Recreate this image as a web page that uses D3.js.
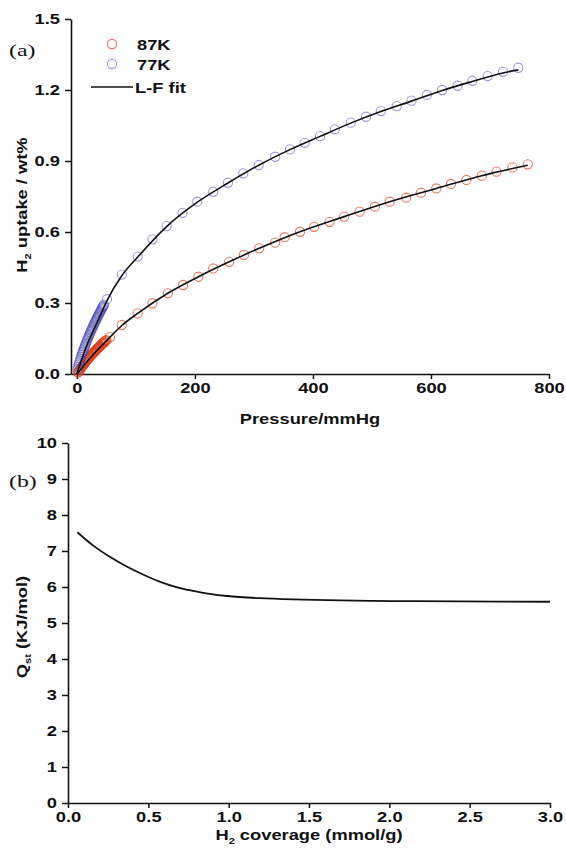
<!DOCTYPE html>
<html>
<head>
<meta charset="utf-8">
<script src="https://cdn.jsdelivr.net/npm/d3@7/dist/d3.min.js"></script>
<style>
  body { margin: 0; background: #fff; }
  text { font-family: "Liberation Sans", Arial, sans-serif; font-weight: bold; fill: #111; }
  .tag { font-family: "Liberation Serif", "Times New Roman", serif; font-weight: normal; }
</style>
</head>
<body>
<svg id="chart" width="566" height="853"></svg>
<script>
// ---- panel (a) data: pressure (mmHg) / uptake (wt%) ----
// low-pressure runs are very dense, they show up as a solid band
var p87 = [2, 3, 4, 5, 6, 7, 8, 9, 10, 11, 12, 13, 14, 15, 16, 17, 18, 19, 20, 21, 22, 23, 24, 25, 26, 27, 28, 29, 30, 31, 32, 33, 34, 35, 36, 37, 38, 39, 40, 41, 42, 43, 44, 45, 46, 47, 48, 49, 50,
  56, 76, 103, 128, 154, 180, 206, 231, 258, 283, 309, 336, 352, 378, 402, 428, 453, 479, 505, 530, 558, 583, 609, 634, 660, 686, 711, 738, 764];
var u87 = [0.006, 0.01, 0.014, 0.018, 0.022, 0.025, 0.029, 0.032, 0.036, 0.039, 0.042, 0.045, 0.049, 0.052, 0.055, 0.058, 0.061, 0.064, 0.067, 0.07, 0.073, 0.076, 0.079, 0.081, 0.084, 0.087, 0.09, 0.092, 0.095, 0.098, 0.1, 0.103, 0.105, 0.108, 0.11, 0.113, 0.115, 0.118, 0.12, 0.123, 0.125, 0.127, 0.13, 0.132, 0.134, 0.137, 0.139, 0.141, 0.143,
  0.156, 0.207, 0.256, 0.299, 0.341, 0.376, 0.411, 0.446, 0.474, 0.503, 0.531, 0.555, 0.578, 0.601, 0.622, 0.643, 0.665, 0.686, 0.707, 0.728, 0.745, 0.766, 0.784, 0.803, 0.82, 0.838, 0.855, 0.873, 0.886];
var p77 = [1, 2, 3, 4, 5, 6, 7, 8, 9, 10, 11, 12, 13, 14, 15, 16, 17, 18, 19, 20, 21, 22, 23, 24, 25, 26, 27, 28, 29, 30, 31, 32, 33, 34, 35, 36, 37, 38, 39, 40, 41, 42, 43, 44, 45, 46,
  51, 76, 103, 128, 152, 179, 204, 231, 256, 282, 308, 336, 361, 386, 412, 437, 464, 490, 515, 542, 567, 593, 619, 645, 670, 696, 722, 748];
var u77 = [0.02, 0.03, 0.04, 0.048, 0.056, 0.064, 0.072, 0.08, 0.087, 0.094, 0.101, 0.108, 0.115, 0.121, 0.128, 0.134, 0.141, 0.147, 0.153, 0.159, 0.165, 0.171, 0.177, 0.183, 0.188, 0.194, 0.199, 0.205, 0.21, 0.215, 0.221, 0.226, 0.231, 0.236, 0.241, 0.246, 0.251, 0.256, 0.261, 0.266, 0.27, 0.275, 0.28, 0.284, 0.289, 0.293,
  0.316, 0.42, 0.496, 0.569, 0.625, 0.681, 0.728, 0.77, 0.808, 0.848, 0.883, 0.918, 0.949, 0.977, 1.005, 1.034, 1.062, 1.087, 1.111, 1.132, 1.155, 1.179, 1.2, 1.218, 1.239, 1.259, 1.277, 1.294];
// L-F fit lines
var fitP87 = [0, 10, 25, 50, 76, 103, 154, 206, 258, 309, 378, 453, 530, 609, 686, 764];
var fitU87 = [0, 0.03, 0.075, 0.14, 0.205, 0.256, 0.341, 0.411, 0.474, 0.531, 0.601, 0.665, 0.728, 0.784, 0.838, 0.882];
var fitP77 = [0, 10, 20, 30, 40, 51, 76, 103, 152, 204, 256, 308, 361, 412, 464, 515, 567, 619, 670, 722, 748];
var fitU77 = [0, 0.075, 0.14, 0.195, 0.25, 0.31, 0.415, 0.494, 0.623, 0.726, 0.807, 0.882, 0.948, 1.004, 1.06, 1.109, 1.153, 1.198, 1.236, 1.272, 1.285];
var ticksA_x = [0, 200, 400, 600, 800];
var ticksA_y = [0.0, 0.3, 0.6, 0.9, 1.2, 1.5];

// ---- panel (b) data: coverage (mmol/g) / Qst (KJ/mol) ----
var cov = [0.058, 0.157, 0.26, 0.365, 0.47, 0.57, 0.68, 0.78, 0.88, 0.99, 1.19, 1.4, 1.61, 2.02, 2.44, 3.0];
var qst = [7.52, 7.15, 6.84, 6.57, 6.34, 6.15, 5.99, 5.89, 5.81, 5.75, 5.69, 5.655, 5.635, 5.61, 5.6, 5.59];
var ticksB_x = [0.0, 0.5, 1.0, 1.5, 2.0, 2.5, 3.0];
var ticksB_y = [0, 1, 2, 3, 4, 5, 6, 7, 8, 9, 10];

var c87 = "#dd3d1a", c77 = "#4546b5";
var svg = d3.select("#chart");

// scales
var xA = d3.scaleLinear().domain([-10, 800]).range([71, 549]);
var yA = d3.scaleLinear().domain([0, 1.5]).range([374, 19]);
var xB = d3.scaleLinear().domain([0, 3]).range([68, 550]);
var yB = d3.scaleLinear().domain([0, 10]).range([803, 443]);

function minor(t) {
  var out = [];
  for (var i = 0; i < t.length - 1; i++) out.push((t[i] + t[i + 1]) / 2);
  return out;
}

function axes(x, y, tx, ty, fx, fy) {
  var gx = svg.append("g").attr("transform", "translate(0," + y.range()[0] + ")");
  gx.call(d3.axisBottom(x).tickValues(minor(tx)).tickSize(3).tickFormat(""));
  gx.call(d3.axisBottom(x).tickValues(tx).tickSize(5).tickSizeOuter(0).tickFormat(fx));
  var gy = svg.append("g").attr("transform", "translate(" + x.range()[0] + ",0)");
  gy.call(d3.axisLeft(y).tickValues(minor(ty)).tickSize(3).tickFormat(""));
  gy.call(d3.axisLeft(y).tickValues(ty).tickSize(6).tickPadding(5).tickSizeOuter(0).tickFormat(fy));
  [gx, gy].forEach(function(g) {
    g.selectAll(".domain").attr("stroke", "#111").attr("stroke-width", 1.6);
    g.selectAll(".tick line").attr("stroke", "#111").attr("stroke-width", 1.5);
    g.selectAll("text").style("font-size", "15px").style("font-weight", "bold")
      .attr("fill", "#111").style("font-family", "'Liberation Sans', Arial, sans-serif");
  });
}

// ===== panel (a) =====
axes(xA, yA, ticksA_x, ticksA_y, d3.format("d"), d3.format(".1f"));

var lineA = d3.line().x(function(d) { return xA(d[0]); }).y(function(d) { return yA(d[1]); })
  .curve(d3.curveMonotoneX);

function dots(ps, us, color, op) {
  svg.append("g").selectAll("circle").data(d3.zip(ps, us)).enter().append("circle")
    .attr("cx", function(d) { return xA(d[0]); })
    .attr("cy", function(d) { return yA(d[1]); })
    .attr("r", 4.6)
    .attr("fill", "none")
    .attr("stroke", color)
    .attr("stroke-opacity", op)
    .attr("stroke-width", 1.1);
}
dots(p87, u87, c87, 0.7);
dots(p77, u77, c77, 0.55);

svg.append("path").datum(d3.zip(fitP87, fitU87)).attr("d", lineA)
  .attr("fill", "none").attr("stroke", "#111").attr("stroke-width", 1.6);
svg.append("path").datum(d3.zip(fitP77, fitU77)).attr("d", lineA)
  .attr("fill", "none").attr("stroke", "#111").attr("stroke-width", 1.6);

// legend
var leg = svg.append("g");
leg.append("circle").attr("cx", 112).attr("cy", 44).attr("r", 4.6)
  .attr("fill", "none").attr("stroke", c87).attr("stroke-opacity", 0.7).attr("stroke-width", 1.1);
leg.append("text").attr("x", 137).attr("y", 49.5).style("font-size", "15px").text("87K");
leg.append("circle").attr("cx", 112).attr("cy", 64).attr("r", 4.6)
  .attr("fill", "none").attr("stroke", c77).attr("stroke-opacity", 0.55).attr("stroke-width", 1.1);
leg.append("text").attr("x", 137).attr("y", 69.5).style("font-size", "15px").text("77K");
leg.append("line").attr("x1", 91).attr("x2", 133).attr("y1", 87).attr("y2", 87)
  .attr("stroke", "#111").attr("stroke-width", 1.6);
leg.append("text").attr("x", 135).attr("y", 92.5).style("font-size", "15px").text("L-F fit");

svg.append("text").attr("class", "tag serif").attr("x", 9).attr("y", 56)
  .style("font-size", "17px").text("(a)");

svg.append("text").attr("x", 310).attr("y", 424).attr("text-anchor", "middle")
  .style("font-size", "15px").text("Pressure/mmHg");

var tA = svg.append("text").attr("transform", "translate(27,205) rotate(-90)")
  .attr("text-anchor", "middle").style("font-size", "15px");
tA.append("tspan").text("H");
tA.append("tspan").attr("dy", 4).style("font-size", "9px").text("2");
tA.append("tspan").attr("dy", -4).text(" uptake / wt%");

// ===== panel (b) =====
axes(xB, yB, ticksB_x, ticksB_y, d3.format(".1f"), d3.format("d"));

var lineB = d3.line().x(function(d) { return xB(d[0]); }).y(function(d) { return yB(d[1]); })
  .curve(d3.curveCatmullRom.alpha(0.5));
svg.append("path").datum(d3.zip(cov, qst)).attr("d", lineB)
  .attr("fill", "none").attr("stroke", "#111").attr("stroke-width", 1.8);

svg.append("text").attr("class", "tag serif").attr("x", 9).attr("y", 487)
  .style("font-size", "17px").text("(b)");

var tBx = svg.append("text").attr("x", 309).attr("y", 840).attr("text-anchor", "middle")
  .style("font-size", "15px");
tBx.append("tspan").text("H");
tBx.append("tspan").attr("dy", 4).style("font-size", "9px").text("2");
tBx.append("tspan").attr("dy", -4).text(" coverage (mmol/g)");

var tBy = svg.append("text").attr("transform", "translate(27,627) rotate(-90)")
  .attr("text-anchor", "middle").style("font-size", "15px");
tBy.append("tspan").text("Q");
tBy.append("tspan").attr("dy", 4).style("font-size", "9px").text("st");
tBy.append("tspan").attr("dy", -4).text(" (KJ/mol)");

// the lettering of the original figure is wide, stretch it sideways
svg.selectAll("text").each(function() {
  var k = this.classList.contains("serif") ? 1.4 : 1.22;
  var w = this.getComputedTextLength();
  if (w > 0) {
    this.setAttribute("textLength", w * k);
    this.setAttribute("lengthAdjust", "spacingAndGlyphs");
  }
});
</script>
</body>
</html>
